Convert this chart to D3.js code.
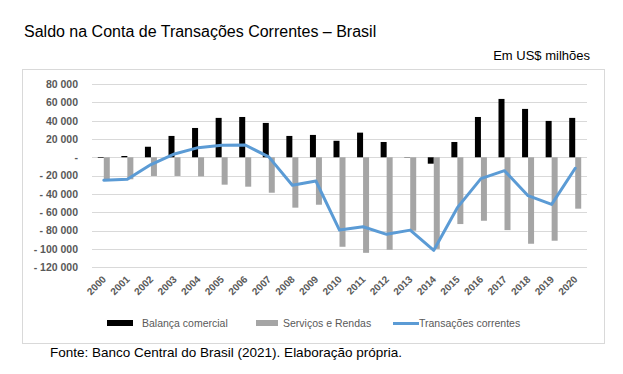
<!DOCTYPE html>
<html>
<head>
<meta charset="utf-8">
<script src="https://cdn.jsdelivr.net/npm/d3@7"></script>
<style>
  html, body { margin: 0; padding: 0; background: #fff; }
  svg { display: block; font-family: "Liberation Sans", Arial, sans-serif; }
</style>
</head>
<body>
<svg id="chart" width="623" height="374"></svg>
<script>
  const years = ["2000","2001","2002","2003","2004","2005","2006","2007","2008","2009","2010",
    "2011","2012","2013","2014","2015","2016","2017","2018","2019","2020"];
  const balancaComercial = [-700, 1400, 11500, 23300, 32000, 43000, 44000, 37500, 23300, 24400, 18000,
    26900, 16700, 300, -7000, 16700, 44000, 63700, 52800, 39700, 43000];
  const servicosRendas = [-24000, -24000, -20400, -20400, -20800, -29900, -32100, -38700, -55000, -51800, -97700,
    -104300, -101000, -80200, -100000, -72900, -69300, -79500, -94400, -91100, -56100];
  const transacoes = [-25000, -24000, -7900, 3600, 10500, 13200, 13400, 400, -30600, -25900, -79500,
    -75800, -84100, -79500, -101600, -55000, -23300, -14600, -41900, -51400, -12000];
  const yTicks = [80000, 60000, 40000, 20000, 0, -20000, -40000, -60000, -80000, -100000, -120000];
  const seriesNames = ["Balança comercial", "Serviços e Rendas", "Transações correntes"];

  const svg = d3.select("#chart");
  const textColor = "#595959";

  // moldura da area do grafico
  svg.append("rect")
    .attr("x", 22.5).attr("y", 69.5)
    .attr("width", 582).attr("height", 274)
    .attr("fill", "none").attr("stroke", "#d9d9d9");

  svg.append("text")
    .attr("x", 24).attr("y", 37)
    .attr("font-size", 16).attr("fill", "#000")
    .text("Saldo na Conta de Transações Correntes – Brasil");

  svg.append("text")
    .attr("x", 590).attr("y", 60)
    .attr("text-anchor", "end")
    .attr("font-size", 13).attr("fill", "#000")
    .text("Em US$ milhões");

  const x = d3.scaleBand().domain(years).range([92, 587]).padding(0);
  const y = d3.scaleLinear().domain([-120000, 80000]).range([267.2, 84]);
  const bw = x.bandwidth();
  const sub = d3.scaleBand().domain(["bal", "serv"]).range([bw / 2 - 6, bw / 2 + 6]);

  const loc = d3.formatLocale({ decimal: ",", thousands: " ", grouping: [3], currency: ["", ""] });
  const fmt = loc.format(",d");
  const yLabel = v => v === 0 ? "-" : v < 0 ? "- " + fmt(-v) : fmt(v);

  // grade
  svg.append("g")
    .selectAll("line")
    .data(yTicks)
    .join("line")
    .attr("x1", 92).attr("x2", 587)
    .attr("y1", d => Math.round(y(d)) + 0.5)
    .attr("y2", d => Math.round(y(d)) + 0.5)
    .attr("stroke", "#d9d9d9");

  const yAxis = svg.append("g")
    .attr("transform", "translate(92,0)")
    .call(d3.axisLeft(y).tickValues(yTicks).tickFormat(yLabel).tickSize(0).tickPadding(14));
  yAxis.select(".domain").remove();
  yAxis.selectAll("text")
    .attr("font-size", 10.5).attr("font-weight", "bold")
    .attr("fill", textColor)
    .attr("font-family", "Liberation Sans, Arial, sans-serif");

  // barras
  svg.append("g")
    .selectAll("rect")
    .data(balancaComercial)
    .join("rect")
    .attr("x", (d, i) => x(years[i]) + sub("bal"))
    .attr("width", sub.bandwidth())
    .attr("y", d => y(Math.max(0, d)))
    .attr("height", d => Math.abs(y(d) - y(0)))
    .attr("fill", "#000");

  svg.append("g")
    .selectAll("rect")
    .data(servicosRendas)
    .join("rect")
    .attr("x", (d, i) => x(years[i]) + sub("serv"))
    .attr("width", sub.bandwidth())
    .attr("y", d => y(Math.max(0, d)))
    .attr("height", d => Math.abs(y(d) - y(0)))
    .attr("fill", "#a5a5a5");

  const line = d3.line()
    .x((d, i) => x(years[i]) + bw / 2)
    .y(d => y(d));

  svg.append("path")
    .datum(transacoes)
    .attr("d", line)
    .attr("fill", "none")
    .attr("stroke", "#5b9bd5")
    .attr("stroke-width", 3)
    .attr("stroke-linejoin", "round")
    .attr("stroke-linecap", "round");

  // rotulos do eixo x
  svg.append("g")
    .selectAll("text")
    .data(years)
    .join("text")
    .attr("transform", d => `translate(${x(d) + bw / 2 + 3},${280}) rotate(-45)`)
    .attr("text-anchor", "end")
    .attr("font-size", 10).attr("font-weight", "bold")
    .attr("fill", textColor)
    .text(d => d);

  // legenda
  const legend = svg.append("g").attr("font-size", 10.5).attr("fill", textColor);
  legend.append("rect").attr("x", 107).attr("y", 320).attr("width", 26).attr("height", 6).attr("fill", "#000");
  legend.append("text").attr("x", 142).attr("y", 327).attr("fill", textColor).text(seriesNames[0]);
  legend.append("rect").attr("x", 256).attr("y", 320).attr("width", 22).attr("height", 6).attr("fill", "#a5a5a5");
  legend.append("text").attr("x", 283).attr("y", 327).attr("fill", textColor).text(seriesNames[1]);
  legend.append("line").attr("x1", 393).attr("x2", 419).attr("y1", 323.5).attr("y2", 323.5)
    .attr("stroke", "#5b9bd5").attr("stroke-width", 3);
  legend.append("text").attr("x", 419).attr("y", 327).attr("fill", textColor).text(seriesNames[2]);

  svg.append("text")
    .attr("x", 50).attr("y", 357)
    .attr("font-size", 13.5).attr("fill", "#000")
    .text("Fonte: Banco Central do Brasil (2021). Elaboração própria.");
</script>
</body>
</html>
